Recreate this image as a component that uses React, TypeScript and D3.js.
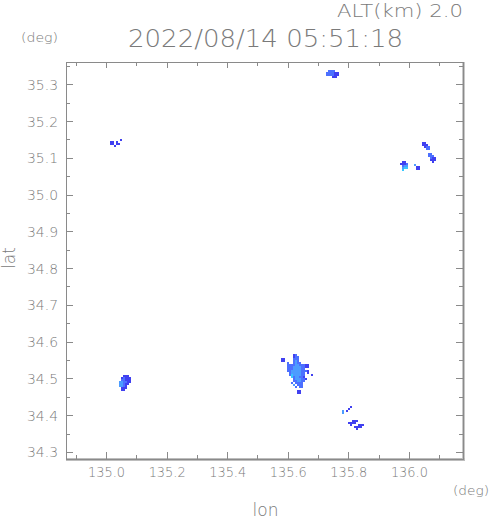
import React from "react";
import * as d3 from "d3";

// axis ticks (deg)
const lonTicks = [135.0, 135.2, 135.4, 135.6, 135.8, 136.0];
const lonMinor = [134.9, 135.1, 135.3, 135.5, 135.7, 135.9, 136.1];
const latTicks = [34.3, 34.4, 34.5, 34.6, 34.7, 34.8, 34.9, 35.0, 35.1, 35.2, 35.3];
const latMinor = [34.35, 34.45, 34.55, 34.65, 34.75, 34.85, 34.95, 35.05, 35.15, 35.25, 35.35];

// radar echo cells: origin (lon, lat of top-left cell) and intensity rows
// 1 = dark blue, 2 = blue, 3 = light blue, 4 = cyan
const cellLon = 0.0066;
const cellLat = 0.00543;

const echoA = { lon: 135.726, lat: 35.34, rows: [".222..", "222211", "222211", "...11."] };
const echoB = { lon: 135.011, lat: 35.152, rows: [".....1", "11.1..", "11.11.", "..1..."] };
const echoC1 = { lon: 136.04, lat: 35.145, rows: ["11..", "111.", ".122", "..22"] };
const echoC2 = { lon: 136.06, lat: 35.114, rows: ["22..", "222.", ".211", ".111", "..1."] };
const echoC3 = { lon: 135.968, lat: 35.093, rows: [".11.", "1112", ".233", ".344", ".4.."] };
const echoC4 = { lon: 136.014, lat: 35.085, rows: ["3..", ".11", ".11"] };
const echoD = {
  lon: 135.041,
  lat: 34.511,
  rows: ["..111.", ".12111", ".22111", "332211", "33211.", "3321..", ".111..", ".11..."],
};
const echoE = {
  lon: 135.5752,
  lat: 34.568,
  rows: [
    "......12........",
    "......122.......",
    "11....222.......",
    "11....232.......",
    "...2..2322......",
    "...22223322211..",
    "...22233332211..",
    "...222333322....",
    "...22333332221..",
    "....23333322.1..",
    "....24333322...1",
    ".....4233221....",
    "......2333221...",
    "......223322....",
    ".....2.2222.....",
    "......3.222.....",
    ".......2.22.....",
    "................",
    "........11......",
    "........11......",
  ],
};
const echoF = {
  lon: 135.7766,
  lat: 34.427,
  rows: [
    "....1......",
    "...1.......",
    "3.1........",
    "3..........",
    "...........",
    "...........",
    "...........",
    ".....111...",
    "...1111....",
    "....1...111",
    "......1111.",
    ".......1...",
  ],
};
const echoes = [echoA, echoB, echoC1, echoC2, echoC3, echoC4, echoD, echoE, echoF];

const levelColors: Record<string, string> = {
  "1": "#4040f0",
  "2": "#4c70ff",
  "3": "#4c9cff",
  "4": "#36c8ff",
};

const W = 491;
const H = 521;
const box = { left: 66, right: 463, top: 62, bottom: 459 };

export default function App() {
  const x = d3.scaleLinear().domain([134.866, 136.177]).range([box.left, box.right]);
  const y = d3.scaleLinear().domain([34.282, 35.362]).range([box.bottom, box.top]);

  const cells: { x: number; y: number; w: number; h: number; c: string }[] = [];
  echoes.forEach((e) => {
    e.rows.forEach((row, r) => {
      row.split("").forEach((ch, c) => {
        if (ch === ".") return;
        const x0 = x(e.lon + c * cellLon);
        const x1 = x(e.lon + (c + 1) * cellLon);
        const y0 = y(e.lat - r * cellLat);
        const y1 = y(e.lat - (r + 1) * cellLat);
        cells.push({ x: x0, y: y0, w: x1 - x0 + 0.3, h: y1 - y0 + 0.3, c: levelColors[ch] });
      });
    });
  });

  const gray = "#8a8a8a";
  const txt = "#7a7a7a";
  const font = "DejaVu Sans";

  return (
    <svg
      width={W}
      height={H}
      style={{ position: "absolute", left: 0, top: 0, background: "#fff" }}
      fontFamily={font}
      fontWeight={200}
    >
      {/* echoes */}
      <g shapeRendering="crispEdges">
        {cells.map((d, i) => (
          <rect key={i} x={d.x} y={d.y} width={d.w} height={d.h} fill={d.c} />
        ))}
      </g>

      {/* frame */}
      <rect x={box.right - 1} y={box.top} width={3} height={box.bottom - box.top + 2} fill="#c8c8c8" />
      <rect x={box.left} y={box.bottom - 1} width={box.right - box.left + 2} height={3} fill="#bdbdbd" />
      <rect
        x={box.left + 0.5}
        y={box.top + 0.5}
        width={box.right - box.left}
        height={box.bottom - box.top}
        fill="none"
        stroke={gray}
      />

      {/* ticks */}
      <g stroke={gray} shapeRendering="crispEdges">
        {lonTicks.map((t) => (
          <g key={"xt" + t}>
            <line x1={x(t)} x2={x(t)} y1={box.bottom} y2={box.bottom - 7} />
            <line x1={x(t)} x2={x(t)} y1={box.top} y2={box.top + 6} />
          </g>
        ))}
        {lonMinor.map((t) => (
          <g key={"xm" + t}>
            <line x1={x(t)} x2={x(t)} y1={box.bottom} y2={box.bottom - 4} />
            <line x1={x(t)} x2={x(t)} y1={box.top} y2={box.top + 4} />
          </g>
        ))}
        {latTicks.map((t) => (
          <g key={"yt" + t}>
            <line x1={box.left} x2={box.left + 7} y1={y(t)} y2={y(t)} />
            <line x1={box.right} x2={box.right - 7} y1={y(t)} y2={y(t)} />
          </g>
        ))}
        {latMinor.map((t) => (
          <g key={"ym" + t}>
            <line x1={box.left} x2={box.left + 4} y1={y(t)} y2={y(t)} />
            <line x1={box.right} x2={box.right - 4} y1={y(t)} y2={y(t)} />
          </g>
        ))}
      </g>

      {/* tick labels */}
      <g fill={txt} fontSize={14}>
        {lonTicks.map((t) => (
          <text key={"xl" + t} x={x(t)} y={477} textAnchor="middle" textLength={37} lengthAdjust="spacingAndGlyphs">
            {t.toFixed(1)}
          </text>
        ))}
        {latTicks.map((t) => (
          <text key={"yl" + t} x={58} y={y(t) + 5} textAnchor="end" textLength={31} lengthAdjust="spacingAndGlyphs">
            {t.toFixed(1)}
          </text>
        ))}
      </g>

      {/* titles */}
      <g fill={txt}>
        <text x={337} y={17} fontSize={17} textLength={126} lengthAdjust="spacingAndGlyphs">
          ALT(km) 2.0
        </text>
        <text x={128} y={47} fontSize={24} textLength={275} lengthAdjust="spacingAndGlyphs">
          2022/08/14 05:51:18
        </text>
        <text x={21} y={42} fontSize={13} textLength={37} lengthAdjust="spacingAndGlyphs">
          (deg)
        </text>
        <text x={453} y={495} fontSize={13} textLength={36} lengthAdjust="spacingAndGlyphs">
          (deg)
        </text>
        <text x={265.5} y={516} fontSize={17} textAnchor="middle">
          lon
        </text>
        <text transform="translate(15,258) rotate(-90)" fontSize={17} textAnchor="middle">
          lat
        </text>
      </g>
    </svg>
  );
}
